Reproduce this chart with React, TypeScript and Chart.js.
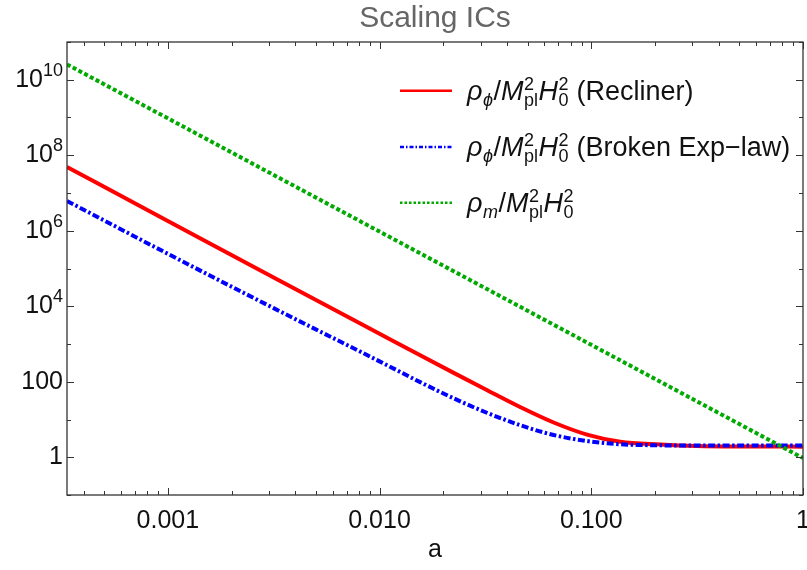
import React, { useEffect, useRef } from "react";
import { Chart, registerables } from "chart.js";
Chart.register(...registerables);

// ---- data ----
const aValues = [3.34e-4, 1e-3, 3.16e-3, 1e-2, 1.556e-2, 2.24e-2, 3.21e-2, 4.61e-2, 6.64e-2, 9.55e-2, 0.137, 0.212, 0.316, 0.501, 1];
const reclinerValues = [4.9e7, 1.82e6, 5.75e4, 1862, 501, 171.8, 60.3, 21.4, 8.32, 3.98, 2.57, 2.19, 2.0, 1.93, 1.91];
const brokenExpValues = [6.17e6, 2.45e5, 8913, 346.7, 97.7, 36.3, 15.1, 7.08, 3.89, 2.69, 2.21, 2.07, 2.04, 2.04, 2.04];
const matterA = [3.34e-4, 1e-3, 1e-2, 1e-1, 1];
const matterValues = [2.55e10, 9.5e8, 9.5e5, 950, 0.95];

const xTickValues = [0.001, 0.01, 0.1, 1];
const xTickLabels = ["0.001", "0.010", "0.100", "1"];
const yTickValues = [1e10, 1e8, 1e6, 1e4, 100, 1];
const yTickBase = ["10", "10", "10", "10", "100", "1"];
const yTickSup = ["10", "8", "6", "4", "", ""];

const titleText = "Scaling ICs";
const xAxisTitle = "a";

const FONT = "'Liberation Sans', Arial, Helvetica, sans-serif";

type Part = { t: string; it?: boolean; sup?: string; sub?: string; subIt?: boolean };

const legendRows: { parts: Part[]; color: string; dash: number[] }[] = [
  {
    parts: [
      { t: "\u03C1", it: true, sub: "\u03D5", subIt: true },
      { t: "/" },
      { t: "M", it: true, sup: "2", sub: "pl" },
      { t: "H", it: true, sup: "2", sub: "0" },
      { t: " (Recliner)" },
    ],
    color: "#ff0000",
    dash: [],
  },
  {
    parts: [
      { t: "\u03C1", it: true, sub: "\u03D5", subIt: true },
      { t: "/" },
      { t: "M", it: true, sup: "2", sub: "pl" },
      { t: "H", it: true, sup: "2", sub: "0" },
      { t: " (Broken Exp\u2212law)" },
    ],
    color: "#0000ff",
    dash: [4, 2, 1.5, 2],
  },
  {
    parts: [
      { t: "\u03C1", it: true, sub: "m", subIt: true },
      { t: "/" },
      { t: "M", it: true, sup: "2", sub: "pl" },
      { t: "H", it: true, sup: "2", sub: "0" },
    ],
    color: "#00aa00",
    dash: [2.5, 2],
  },
];

function drawRich(ctx: CanvasRenderingContext2D, x0: number, baseline: number, parts: Part[], size: number, small: number) {
  let x = x0;
  ctx.textBaseline = "alphabetic";
  ctx.textAlign = "left";
  for (const p of parts) {
    ctx.font = `${p.it ? "italic " : ""}${size}px ${FONT}`;
    ctx.fillText(p.t, x, baseline);
    x += ctx.measureText(p.t).width;
    let w = 0;
    if (p.sup) {
      ctx.font = `${small}px ${FONT}`;
      ctx.fillText(p.sup, x + 0.5, baseline - 10);
      w = Math.max(w, ctx.measureText(p.sup).width);
    }
    if (p.sub) {
      ctx.font = `${p.subIt ? "italic " : ""}${small}px ${FONT}`;
      ctx.fillText(p.sub, x + 0.5, baseline + 6);
      w = Math.max(w, ctx.measureText(p.sub).width);
    }
    if (w > 0) x += w + 1;
  }
}

const decor = {
  id: "decor",
  afterDatasetsDraw(chart: any) {
    const { ctx, chartArea, scales } = chart;
    const { left, right, top, bottom } = chartArea;
    const xs = scales.x;
    const ys = scales.y;
    ctx.save();
    ctx.strokeStyle = "#333";
    ctx.lineWidth = 1.3;
    ctx.setLineDash([]);
    ctx.strokeRect(left, top, right - left, bottom - top);
    const seg = (x1: number, y1: number, x2: number, y2: number) => {
      ctx.beginPath();
      ctx.moveTo(x1, y1);
      ctx.lineTo(x2, y2);
      ctx.stroke();
    };
    ctx.lineWidth = 1;
    for (let e = -4; e <= 0; e++) {
      for (let m = 1; m <= 9; m++) {
        const v = m * Math.pow(10, e);
        if (v < xs.min * 0.999 || v > xs.max * 1.001) continue;
        const px = Math.round(xs.getPixelForValue(v)) + 0.5;
        const len = m === 1 ? 7 : 4;
        seg(px, bottom, px, bottom - len);
        seg(px, top, px, top + len);
      }
    }
    for (let e = -1; e <= 11; e++) {
      const v = Math.pow(10, e);
      const py = Math.round(ys.getPixelForValue(v)) + 0.5;
      const len = e % 2 === 0 ? 7 : 4;
      seg(left, py, left + len, py);
      seg(right, py, right - len, py);
    }
    ctx.fillStyle = "#111";
    ctx.font = `25px ${FONT}`;
    ctx.textAlign = "center";
    ctx.textBaseline = "middle";
    xTickValues.forEach((v, i) => {
      ctx.fillText(xTickLabels[i], xs.getPixelForValue(v), 521);
    });
    yTickValues.forEach((v, i) => {
      const py = ys.getPixelForValue(v);
      ctx.font = `18px ${FONT}`;
      const sw = yTickSup[i] ? ctx.measureText(yTickSup[i]).width : 0;
      ctx.font = `25px ${FONT}`;
      const bw = ctx.measureText(yTickBase[i]).width;
      const xr = left - 4;
      ctx.textAlign = "left";
      ctx.textBaseline = "middle";
      ctx.fillText(yTickBase[i], xr - sw - bw, py);
      if (yTickSup[i]) {
        ctx.font = `18px ${FONT}`;
        ctx.fillText(yTickSup[i], xr - sw, py - 9);
      }
    });
    ctx.textAlign = "center";
    ctx.font = `25px ${FONT}`;
    ctx.fillText(xAxisTitle, (left + right) / 2, 550);
    ctx.fillStyle = "#666";
    ctx.font = `30px ${FONT}`;
    ctx.fillText(titleText, (left + right) / 2, 19);
    const rowY = [90.7, 147, 202.7];
    legendRows.forEach((r, i) => {
      const y = rowY[i];
      ctx.strokeStyle = r.color;
      ctx.lineWidth = 2.4;
      ctx.setLineDash(r.dash);
      seg(400, y, 452, y);
      ctx.setLineDash([]);
      ctx.fillStyle = "#111";
      drawRich(ctx, 467, y + 9, r.parts, 27, 18);
    });
    ctx.restore();
  },
};

export default function App() {
  const ref = useRef<HTMLCanvasElement | null>(null);
  useEffect(() => {
    document.body.style.margin = "0";
    const canvas = ref.current!;
    const chart = new Chart(canvas, {
      type: "line",
      data: {
        datasets: [
          {
            label: "rho_m",
            data: matterA.map((a, i) => ({ x: a, y: matterValues[i] })),
            borderColor: "#00aa00",
            borderWidth: 4,
            borderDash: [4, 2.5],
            pointRadius: 0,
            order: 0,
          },
          {
            label: "Broken Exp-law",
            data: aValues.map((a, i) => ({ x: a, y: brokenExpValues[i] })),
            borderColor: "#0000ff",
            borderWidth: 4,
            borderDash: [7, 2.5, 2.5, 2.5],
            pointRadius: 0,
            cubicInterpolationMode: "monotone",
            order: 1,
          },
          {
            label: "Recliner",
            data: aValues.map((a, i) => ({ x: a, y: reclinerValues[i] })),
            borderColor: "#ff0000",
            borderWidth: 4,
            pointRadius: 0,
            cubicInterpolationMode: "monotone",
            order: 2,
          },
        ],
      },
      options: {
        animation: false,
        responsive: false,
        layout: { padding: { top: 42, right: 4, left: 0, bottom: 0 } },
        plugins: { legend: { display: false }, title: { display: false }, tooltip: { enabled: false } },
        scales: {
          x: {
            type: "logarithmic",
            bounds: "data",
            min: 3.34e-4,
            max: 1,
            grid: { display: false },
            border: { display: false },
            ticks: { display: false },
            afterFit: (s: any) => {
              s.height = 75;
            },
          },
          y: {
            type: "logarithmic",
            bounds: "data",
            min: 0.1,
            max: 1e11,
            grid: { display: false },
            border: { display: false },
            ticks: { display: false },
            afterFit: (s: any) => {
              s.width = 67;
            },
          },
        },
      },
      plugins: [decor],
    } as any);
    return () => chart.destroy();
  }, []);
  return (
    <div style={{ width: 807, height: 570 }}>
      <canvas ref={ref} width={807} height={570} style={{ display: "block" }} />
    </div>
  );
}
